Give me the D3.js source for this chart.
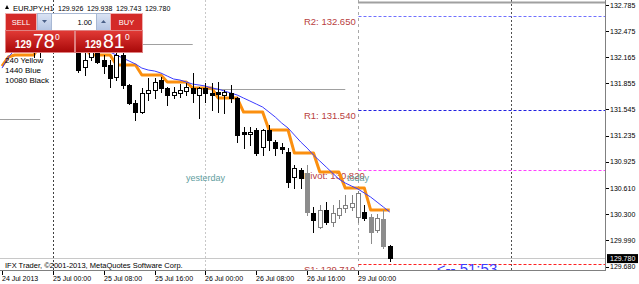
<!DOCTYPE html>
<html><head><meta charset="utf-8">
<script src="https://cdn.jsdelivr.net/npm/d3@7"></script>
<style>html,body{margin:0;padding:0;background:#fff;overflow:hidden}svg{display:block}</style>
</head><body>
<svg id="c" width="639" height="284"></svg>
<script>
// ---------------- DATA ----------------
const symbol = "EURJPY,H1";
const lastBar = [129.926, 129.938, 129.743, 129.780];
const firstBarTime = "2013-07-24 16:00";
// bar 0 = 24 Jul 16:00 (hourly, weekend skipped)
const open = [null,132.369,132.488,132.393,132.452,132.345,132.286,132.333,132.393,132.488,132.416,132.464,132.274,132.048,132.167,132.310,132.131,132.072,131.930,132.191,131.835,131.621,131.514,131.740,131.775,131.894,131.799,131.716,131.740,131.763,131.799,131.716,131.799,131.740,131.751,131.716,131.740,131.680,131.276,131.253,131.300,131.098,131.300,131.158,131.098,131.039,130.742,130.825,130.789,130.314,130.148,130.350,130.208,130.291,130.374,130.386,130.267,130.326,130.267,130.113,130.243,129.926];
const high = [null,132.547,132.547,132.511,132.488,132.393,132.369,132.440,132.547,132.583,132.535,132.511,132.369,132.250,132.321,132.369,132.191,132.131,132.250,132.250,131.846,131.656,131.799,131.918,131.918,131.930,131.811,131.811,131.846,131.858,131.977,131.811,131.858,131.858,131.870,131.775,131.835,131.692,131.336,131.336,131.324,131.312,131.359,131.181,131.146,131.086,130.884,130.849,130.884,130.386,130.409,130.445,130.409,130.469,130.528,130.528,130.576,130.409,130.303,130.303,130.350,129.938];
const low = [null,132.310,132.321,132.298,132.250,132.167,132.167,132.250,132.310,132.345,132.321,132.250,131.989,131.953,132.131,132.096,131.977,131.811,131.894,131.799,131.609,131.419,131.502,131.656,131.680,131.751,131.597,131.680,131.692,131.716,131.633,131.443,131.633,131.538,131.514,131.502,131.633,131.158,131.086,131.122,131.003,131.003,131.063,131.003,131.027,130.623,130.611,130.611,130.291,130.089,130.136,130.184,130.160,130.255,130.326,130.350,130.208,130.231,129.958,130.089,129.899,129.743];
const close = [null,132.488,132.393,132.452,132.345,132.286,132.333,132.393,132.488,132.416,132.464,132.310,132.013,132.131,132.274,132.108,132.060,131.918,132.191,131.835,131.621,131.514,131.740,131.775,131.870,131.799,131.716,131.751,131.775,131.811,131.740,131.799,131.740,131.716,131.728,131.751,131.680,131.241,131.253,131.276,131.027,131.300,131.181,131.086,131.074,130.683,130.849,130.730,130.326,130.231,130.350,130.208,130.314,130.374,130.409,130.433,130.552,130.255,130.089,130.255,129.923,129.780];
const ma240 = [132.060,132.167,132.191,132.191,132.191,132.191,132.310,132.310,132.310,132.310,132.274,132.274,132.274,132.274,132.191,132.191,132.191,132.191,132.072,132.072,132.072,132.072,131.953,131.953,131.953,131.953,131.870,131.870,131.870,131.870,131.799,131.799,131.799,131.799,131.680,131.680,131.680,131.680,131.514,131.514,131.514,131.514,131.300,131.300,131.300,131.300,131.027,131.027,131.027,131.027,130.801,130.801,130.801,130.801,130.611,130.611,130.611,130.611,130.350,130.350,130.350,130.350];
const ma1440 = [132.036,132.167,132.250,132.286,132.310,132.321,132.333,132.333,132.333,132.321,132.310,132.298,132.298,132.286,132.274,132.262,132.250,132.227,132.191,132.155,132.120,132.084,132.036,132.013,132.001,131.977,131.941,131.906,131.894,131.870,131.846,131.835,131.823,131.799,131.787,131.763,131.740,131.716,131.680,131.645,131.609,131.573,131.514,131.454,131.383,131.324,131.241,131.158,131.086,131.003,130.932,130.861,130.789,130.718,130.671,130.635,130.600,130.552,130.504,130.445,130.386,130.326];
const xTickBars = [0,8,16,24,32,40,48,56];
const xTickLabels = ["24 Jul 2013","25 Jul 00:00","25 Jul 08:00","25 Jul 16:00","26 Jul 00:00","26 Jul 08:00","26 Jul 16:00","29 Jul 00:00"];
const yTicks = [132.785,132.475,132.165,131.855,131.545,131.235,130.925,130.610,130.300,129.990,129.680];
const pivotNames = ["R2","R1","Pivot","S1"];
const pivotValues = [132.650,131.540,130.820,129.710];
const separatorBars = [8,32,56,80];
const levelValues = [131.431,132.321,131.793,132.820];
const levelStart = [-16,8,32,56];
const levelEnd = [6,30,54,100];
const dayLabels = ["yesterday","today"];
const dayLabelBars = [32,56];
const legendLines = ["240 Yellow","1440 Blue","10080 Black"];
const countdown = "<-- 51:53";
const sellPrice = ["129","78","0"];
const buyPrice = ["129","81","0"];
const lotSize = "1.00";

// ---------------- CHART ----------------
const W=639,H=284, plotR=605, plotB=270;
const FONT="Tahoma, 'Liberation Sans', Arial, sans-serif";
const svg=d3.select("#c");
svg.append("rect").attr("width",W).attr("height",H).attr("fill","#fff");
const x=d3.scaleLinear().domain([0,88]).range([2, 2+88*6.357]);
const y=d3.scaleLinear().domain([129.680,132.785]).range([266.5,5]);
const defs=svg.append("defs");
defs.append("clipPath").attr("id","plot").append("rect").attr("x",0).attr("y",0).attr("width",plotR).attr("height",plotB);
const g=svg.append("g").attr("clip-path","url(#plot)");
const px=v=>Math.round(x(v))+0.5, py=v=>Math.round(y(v))+0.5;

// separators
const sepStyle=[["#404040","2,2"],["#c8c8c8","2,2"],["#a8a8a8","3,3"],["#505050","2,2"]];
separatorBars.forEach((b,k)=>{
  g.append("line").attr("x1",px(b)).attr("x2",px(b)).attr("y1",0).attr("y2",plotB)
   .attr("stroke",sepStyle[k][0]).attr("stroke-dasharray",sepStyle[k][1]);
});
// gray level lines
levelValues.forEach((v,k)=>{
  g.append("line").attr("x1",x(levelStart[k])).attr("x2",Math.min(x(levelEnd[k]),plotR)).attr("y1",py(v)).attr("y2",py(v))
   .attr("stroke","#a0a0a0").attr("stroke-width",k===3?2:1);
});
// pivot lines
const pivColors=["#7070ff","#2020e0","#ff40ff","#ff2020"];
pivotValues.forEach((v,k)=>{
  g.append("line").attr("x1",px(56)).attr("x2",plotR).attr("y1",py(v)).attr("y2",py(v))
   .attr("stroke",pivColors[k]).attr("stroke-dasharray","3,2");
  g.append("text").attr("x",x(47.5)).attr("y",y(v)+9).text(pivotNames[k]+": "+v.toFixed(3))
   .attr("font-family",FONT).attr("font-size",9.5).attr("fill","#b84040");
});
// bid line
g.append("line").attr("x1",0).attr("x2",plotR).attr("y1",py(lastBar[3])).attr("y2",py(lastBar[3])).attr("stroke","#c8c8c8");

// day labels
dayLabels.forEach((t,k)=>{
  g.append("text").attr("x",x(dayLabelBars[k])).attr("y",y(130.730)+2.5).attr("text-anchor","middle")
   .attr("font-family",FONT).attr("font-size",9).attr("fill","#5f9ea0").text(t);
});

// moving averages
const line=d3.line().x((d,i)=>x(i)).y(d=>y(d));
g.append("path").attr("d",line(ma240)).attr("fill","none").attr("stroke","#fb8f0f").attr("stroke-width",3).attr("stroke-linejoin","round");
g.append("path").attr("d",line(ma1440)).attr("fill","none").attr("stroke","#3c3cff").attr("stroke-width",1);

// candles
const bars=open.map((o,i)=>({i,o,h:high[i],l:low[i],c:close[i]})).filter(d=>d.o!==null);
bars.forEach(d=>{
  const cx=Math.round(x(d.i));
  const late=d.i>=48 && d.i<open.length-1;
  const bear=d.c<d.o;
  const dim=late && bear && (d.o-d.c)>0.15;
  const col=dim?"#8c8c8c":(late && !bear?"#808080":"#000");
  g.append("line").attr("x1",cx+0.5).attr("x2",cx+0.5).attr("y1",Math.round(y(d.h))).attr("y2",Math.round(y(d.l))+1).attr("stroke",col);
  const top=Math.round(y(Math.max(d.o,d.c))), bot=Math.round(y(Math.min(d.o,d.c)));
  if(bear){
    g.append("rect").attr("x",cx-2).attr("y",top).attr("width",5).attr("height",Math.max(1,bot-top+1)).attr("fill",col);
  } else {
    g.append("rect").attr("x",cx-1.5).attr("y",top+0.5).attr("width",4).attr("height",Math.max(0,bot-top)).attr("fill","#fff").attr("stroke",col);
  }
});

// countdown
g.append("text").attr("x",x(open.length-1)+47).attr("y",y(lastBar[3])+16).attr("font-family","Arial, 'Liberation Sans', sans-serif")
 .attr("font-size",15).attr("fill","#3c3cff").text(countdown);

// legend
legendLines.forEach((t,k)=>{
  svg.append("text").attr("x",5).attr("y",63+k*10).attr("font-family",FONT).attr("font-size",8).attr("fill","#000").text(t);
});
// copyright
svg.append("text").attr("x",5).attr("y",268).attr("font-family",FONT).attr("font-size",7.5).attr("fill","#000")
 .text("IFX Trader, \u00a92001-2013, MetaQuotes Software Corp.");

// header
svg.append("path").attr("d","M5,9 L7,5 L9,9 Z").attr("fill","#000");
svg.append("text").attr("x",13).attr("y",10.5).attr("font-family",FONT).attr("font-size",7.6).attr("fill","#000").text(symbol);
const hdrX=[58,87,116,145];
lastBar.forEach((v,k)=>{
  svg.append("text").attr("x",hdrX[k]).attr("y",10.5).attr("font-family",FONT).attr("font-size",7).attr("fill","#000").text(v.toFixed(3));
});

// axes
svg.append("line").attr("x1",plotR+0.5).attr("x2",plotR+0.5).attr("y1",0).attr("y2",plotB+1).attr("stroke","#808080");
svg.append("line").attr("x1",0).attr("x2",plotR+1).attr("y1",plotB+0.5).attr("y2",plotB+0.5).attr("stroke","#808080");
yTicks.forEach(v=>{
  svg.append("line").attr("x1",plotR+1).attr("x2",plotR+4).attr("y1",py(v)).attr("y2",py(v)).attr("stroke","#000");
  svg.append("text").attr("x",610).attr("y",y(v)+2.5).attr("font-family",FONT).attr("font-size",7).attr("fill","#000").text(v.toFixed(3));
});
// bid label
svg.append("rect").attr("x",607).attr("y",y(lastBar[3])-4).attr("width",31).attr("height",9).attr("fill","#000");
svg.append("text").attr("x",610).attr("y",y(lastBar[3])+3).attr("font-family",FONT).attr("font-size",7).attr("fill","#fff").text(lastBar[3].toFixed(3));
xTickBars.forEach((b,k)=>{
  svg.append("line").attr("x1",px(b)).attr("x2",px(b)).attr("y1",plotB+1).attr("y2",plotB+5).attr("stroke","#000");
  svg.append("text").attr("x",Math.round(x(b))).attr("y",281).attr("font-family",FONT).attr("font-size",7).attr("fill","#000").text(xTickLabels[k]);
});

// trade panel
const grad=defs.append("linearGradient").attr("id","red").attr("x1",0).attr("x2",0).attr("y1",0).attr("y2",1);
grad.append("stop").attr("offset","0").attr("stop-color","#e23a36");
grad.append("stop").attr("offset","1").attr("stop-color","#a80808");
const gradB=defs.append("linearGradient").attr("id","blu").attr("x1",0).attr("x2",0).attr("y1",0).attr("y2",1);
gradB.append("stop").attr("offset","0").attr("stop-color","#dbe4f4");
gradB.append("stop").attr("offset","1").attr("stop-color","#b4c4e2");
const P=svg.append("g");
P.append("rect").attr("x",5.5).attr("y",13.5).attr("width",31).attr("height",17).attr("fill","#d42a27").attr("stroke","#f0b0b0");
P.append("text").attr("x",21).attr("y",25).attr("text-anchor","middle").attr("font-family",FONT).attr("font-size",7.5).attr("fill","#fff").text("SELL");
P.append("rect").attr("x",37.5).attr("y",13.5).attr("width",14).attr("height",17).attr("fill","url(#blu)").attr("stroke","#a8b8d4");
P.append("path").attr("d","M42,20 L47,20 L44.5,23 Z").attr("fill","#4a6088");
P.append("rect").attr("x",51.5).attr("y",13.5).attr("width",45).attr("height",17).attr("fill","#fff").attr("stroke","#a8b8d4");
P.append("text").attr("x",92).attr("y",25).attr("text-anchor","end").attr("font-family",FONT).attr("font-size",7.5).attr("fill","#000").text(lotSize);
P.append("rect").attr("x",96.5).attr("y",13.5).attr("width",14).attr("height",17).attr("fill","url(#blu)").attr("stroke","#a8b8d4");
P.append("path").attr("d","M101,23 L106,23 L103.5,20 Z").attr("fill","#4a6088");
P.append("rect").attr("x",110.5).attr("y",13.5).attr("width",32).attr("height",17).attr("fill","#d42a27").attr("stroke","#f0b0b0");
P.append("text").attr("x",126.5).attr("y",25).attr("text-anchor","middle").attr("font-family",FONT).attr("font-size",7.5).attr("fill","#fff").text("BUY");
P.append("rect").attr("x",5.5).attr("y",30.5).attr("width",69).attr("height",22).attr("fill","url(#red)").attr("stroke","#e08080");
P.append("rect").attr("x",75.5).attr("y",30.5).attr("width",67).attr("height",22).attr("fill","url(#red)").attr("stroke","#e08080");
function bigPrice(parts,x0){
  P.append("text").attr("x",x0).attr("y",47.5).attr("font-family","Arial, 'Liberation Sans', sans-serif").attr("font-weight","bold").attr("font-size",10).attr("fill","#fff").text(parts[0]);
  P.append("text").attr("x",x0+18).attr("y",47.5).attr("font-family","Arial, 'Liberation Sans', sans-serif").attr("font-size",19.5).attr("fill","#fff").text(parts[1]);
  P.append("text").attr("x",x0+40).attr("y",39.5).attr("font-family","Arial, 'Liberation Sans', sans-serif").attr("font-size",8.5).attr("fill","#fff").text(parts[2]);
}
bigPrice(sellPrice,15);
bigPrice(buyPrice,85);
</script>
</body></html>
